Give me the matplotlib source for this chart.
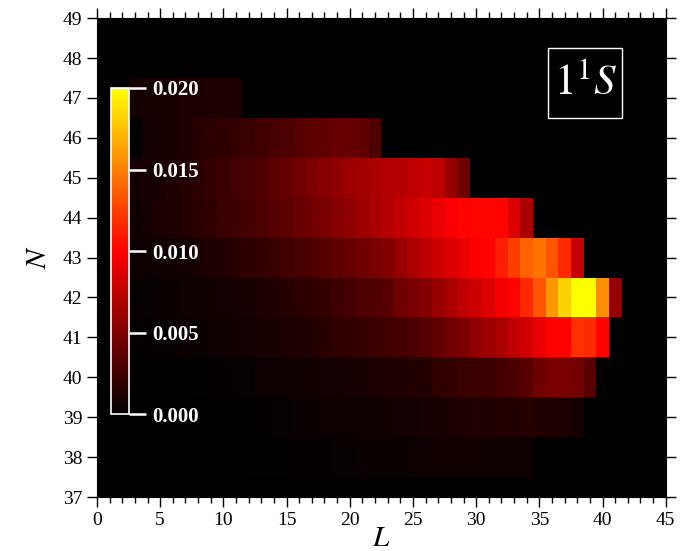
import numpy as np
import matplotlib
matplotlib.use('Agg')
import matplotlib.pyplot as plt
from matplotlib.colors import LinearSegmentedColormap
from matplotlib.patches import Rectangle
from matplotlib.ticker import MultipleLocator

plt.rcParams['font.family'] = 'Liberation Serif'
plt.rcParams['mathtext.fontset'] = 'stix'

# === occupation probability per (N, L) cell, each row starts at l_start ===
n_values = [37, 38, 39, 40, 41, 42, 43, 44, 45, 46, 47]
l_start = [17, 12, 12, 8, 3, 3, 3, 3, 3, 4, 3]

row_n37 = [0.0001, 0.0001, 0.0001, 0.0001, 0.00012, 0.00012, 0.00012, 0.00015, 0.00015, 0.00015,
           0.00015, 0.00015, 0.00015, 0.00012, 0.00012, 0.00012, 0.0001, 0.0001, 0.0001]
row_n38 = [0.0001, 0.0001, 0.00015, 0.0002, 0.0002, 0.0002, 0.0002, 0.0003, 0.0003, 0.0004,
           0.0004, 0.0004, 0.0004, 0.0005, 0.0005, 0.0007, 0.0007, 0.0007, 0.0007, 0.0006,
           0.0006, 0.0006, 0.0005]
row_n39 = [0.0001, 0.0002, 0.0003, 0.0003, 0.0004, 0.0004, 0.0005, 0.0005, 0.0006, 0.0006,
           0.0006, 0.0007, 0.0008, 0.0008, 0.0009, 0.0010, 0.0011, 0.0012, 0.0013, 0.0013,
           0.0014, 0.0014, 0.0015, 0.0014, 0.0013, 0.0011, 0.0008]
row_n40 = [0.0001, 0.0002, 0.0002, 0.0003, 0.0003, 0.0005, 0.0005, 0.0006, 0.0006, 0.0007,
           0.0008, 0.0008, 0.0009, 0.0010, 0.0011,
           0.0012, 0.0012, 0.0014, 0.0014, 0.0018, 0.0020, 0.0022, 0.0023, 0.0024, 0.0027,
           0.0029, 0.0035, 0.0043, 0.0047, 0.0047, 0.0045, 0.0035]
row_n41 = [0.0002, 0.0002, 0.0003, 0.0003, 0.0004, 0.0004, 0.0005, 0.0006, 0.0007, 0.0008,
           0.0009, 0.0010, 0.0011, 0.0012, 0.0014, 0.0016, 0.0018, 0.0019, 0.0021, 0.0023,
           0.0025, 0.0026, 0.0029, 0.0033, 0.0039, 0.0045, 0.0049, 0.0057, 0.0061, 0.0067,
           0.0075, 0.0082, 0.0092, 0.0100, 0.0101, 0.0118, 0.0117, 0.0101]
row_n42 = [0.0003, 0.0003, 0.0004, 0.0004, 0.0005, 0.0006, 0.0007, 0.0008, 0.0009, 0.0010,
           0.0011, 0.0013, 0.0015, 0.0017, 0.0019, 0.0021, 0.0024, 0.0027, 0.0030, 0.0032,
           0.0035, 0.0043, 0.0047, 0.0051, 0.0059, 0.0067, 0.0075, 0.0080, 0.0086, 0.0096,
           0.0101, 0.0116, 0.0133, 0.0159, 0.0182, 0.0200, 0.0199, 0.0155, 0.0059]
row_n43 = [0.0005, 0.0006, 0.0006, 0.0007, 0.0008, 0.0010, 0.0012, 0.0014, 0.0016, 0.0018,
           0.0020, 0.0022, 0.0025, 0.0028, 0.0031, 0.0034, 0.0037, 0.0040, 0.0043, 0.0047,
           0.0051, 0.0059, 0.0067, 0.0073, 0.0080, 0.0086, 0.0092, 0.0099, 0.0100, 0.0112,
           0.0124, 0.0139, 0.0145, 0.0133, 0.0116, 0.0078]
row_n44 = [0.0007, 0.0008, 0.0011, 0.0012, 0.0014, 0.0017, 0.0019, 0.0022, 0.0024, 0.0027,
           0.0030, 0.0033, 0.0036, 0.0040, 0.0044, 0.0047, 0.0052, 0.0057, 0.0061, 0.0066,
           0.0071, 0.0076, 0.0082, 0.0086, 0.0092, 0.0098, 0.0101, 0.0102, 0.0102, 0.0101,
           0.0086, 0.0067]
row_n45 = [0.0008, 0.0009, 0.0010, 0.0012, 0.0014, 0.0017, 0.0021, 0.0023, 0.0026, 0.0029,
           0.0032, 0.0036, 0.0040, 0.0044, 0.0049, 0.0053, 0.0057, 0.0061, 0.0064, 0.0067,
           0.0070, 0.0071, 0.0075, 0.0078, 0.0074, 0.0059, 0.0043]
row_n46 = [0.0008, 0.0009, 0.0010, 0.0011, 0.0015, 0.0017, 0.0019, 0.0021, 0.0023, 0.0025,
           0.0028, 0.0030, 0.0033, 0.0036, 0.0038, 0.0040, 0.0040, 0.0038, 0.0030]
row_n47 = [0.0008, 0.0009, 0.0010, 0.0010, 0.0011, 0.0011, 0.0012, 0.0012, 0.0011]

rows = [row_n37, row_n38, row_n39, row_n40, row_n41, row_n42,
        row_n43, row_n44, row_n45, row_n46, row_n47]

cb_ticks = [0.000, 0.005, 0.010, 0.015, 0.020]

# grid over N = 37..49, L = 0..45 (cell centred on integers)
N_all = np.arange(37, 50)
L_all = np.arange(0, 46)
Z = np.zeros((len(N_all), len(L_all)))
for n, l0, vals in zip(n_values, l_start, rows):
    Z[n - 37, l0:l0 + len(vals)] = vals

cmap = LinearSegmentedColormap.from_list('bry', ['black', 'red', 'yellow'])

fig = plt.figure(figsize=(6.82, 5.51), dpi=100)
ax = fig.add_axes([0.1422, 0.098, 0.834, 0.869])
ax.set_facecolor('black')

L_edges = np.arange(-0.5, 46.0, 1.0)
N_edges = np.arange(36.5, 50.0, 1.0)
mesh = ax.pcolormesh(L_edges, N_edges, Z, cmap=cmap, vmin=0, vmax=0.02,
                     shading='flat', antialiased=False)

ax.set_xlim(0, 45)
ax.set_ylim(37, 49)
ax.xaxis.set_major_locator(MultipleLocator(5))
ax.xaxis.set_minor_locator(MultipleLocator(1))
ax.yaxis.set_major_locator(MultipleLocator(1))
ax.tick_params(which='both', direction='out', top=True, right=True, labelsize=14, width=1)
ax.tick_params(which='major', length=7)
ax.tick_params(which='minor', length=4)
ax.set_xlabel('$L$', fontsize=21, labelpad=-2)
ax.set_ylabel('$N$', fontsize=21, labelpad=8)

# state label in the upper right
ax.add_patch(Rectangle((0.793, 0.791), 0.130, 0.146, transform=ax.transAxes,
                       facecolor='black', edgecolor='white', lw=1, zorder=5))
ax.text(0.858, 0.862, '$1^1S$', transform=ax.transAxes, color='white',
        fontsize=31, ha='center', va='center', zorder=6)

# colour bar inside the plot
cax = fig.add_axes([0.1628, 0.2486, 0.0264, 0.5917])
cb = fig.colorbar(mesh, cax=cax, ticks=cb_ticks)
cb.outline.set_edgecolor('white')
cb.outline.set_linewidth(1.2)
cb.ax.tick_params(colors='white', length=12, width=1.8, direction='out', pad=5)
cb.ax.set_yticklabels(['%.3f' % t for t in cb_ticks], fontsize=15,
                      fontweight='bold', color='white')

fig.savefig('out.png', dpi=100)
